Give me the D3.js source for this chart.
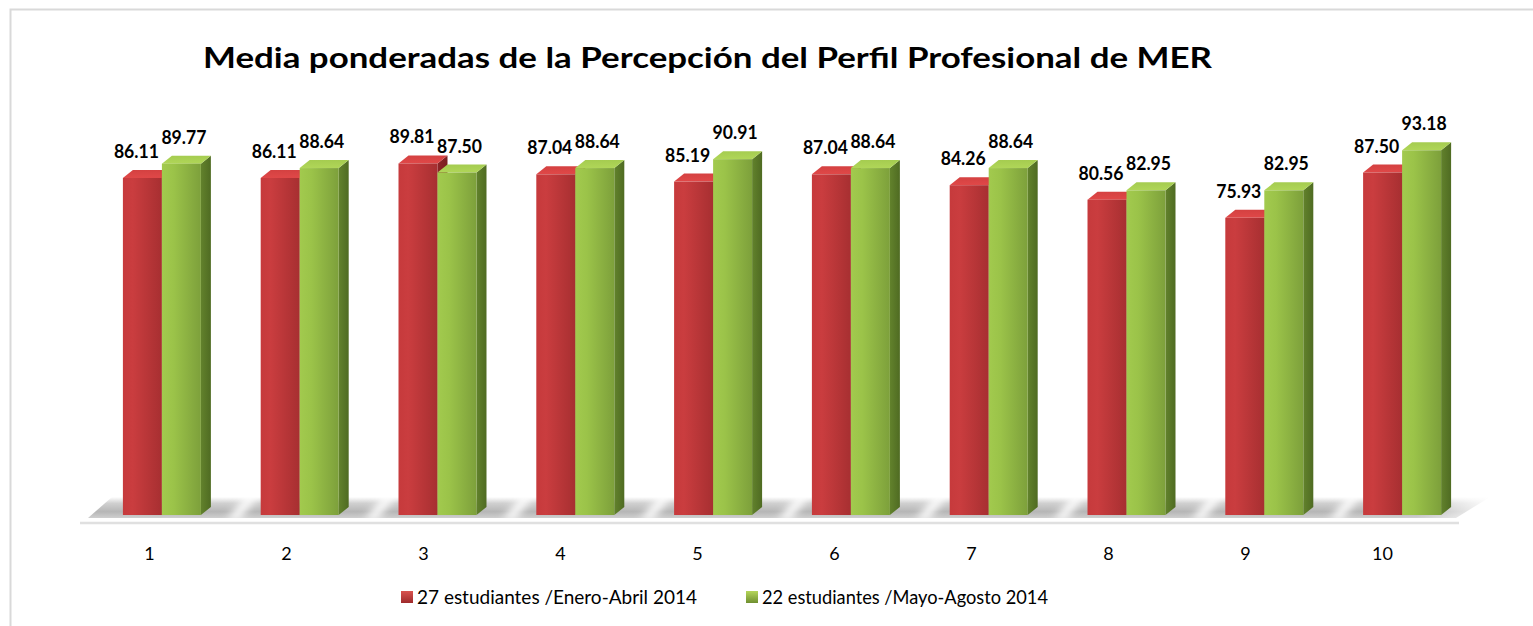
<!DOCTYPE html>
<html>
<head>
<meta charset="utf-8">
<script src="https://cdn.jsdelivr.net/npm/d3@7"></script>
<style>
  html, body { margin: 0; padding: 0; background: #ffffff; }
  svg { display: block; }
</style>
</head>
<body>
<svg id="chart" width="1533" height="626"></svg>
<script>
// Chart data
const chartTitle = "Media ponderadas de la Percepción del Perfil Profesional de MER";
const categories = ["1", "2", "3", "4", "5", "6", "7", "8", "9", "10"];
const seriesKeys = ["enero", "mayo"];
const seriesNames = ["27 estudiantes /Enero-Abril 2014", "22 estudiantes /Mayo-Agosto 2014"];
const eneroAbril = [86.11, 86.11, 89.81, 87.04, 85.19, 87.04, 84.26, 80.56, 75.93, 87.50];
const mayoAgosto = [89.77, 88.64, 87.50, 88.64, 90.91, 88.64, 88.64, 82.95, 82.95, 93.18];

const rows = categories.map((c, i) => ({ cat: c, enero: eneroAbril[i], mayo: mayoAgosto[i] }));

const FONT = "Lato, 'Open Sans', sans-serif";
const svg = d3.select("#chart");
const defs = svg.append("defs");

// Outer frame (top and left edges visible)
svg.append("path")
  .attr("d", "M10.5,626 L10.5,9.5 L1533,9.5")
  .attr("fill", "none").attr("stroke", "#d9d9d9").attr("stroke-width", 2);

// Scales: category labels sit on a slightly narrower run than the bar fronts (3D perspective)
const xLabel = d3.scaleBand().domain(categories).range([81, 1451]).paddingInner(0.434).paddingOuter(0.217);
const xBar = d3.scaleBand().domain(categories).range([93, 1471]).paddingInner(0.434).paddingOuter(0.217);
const xSub = d3.scaleBand().domain(seriesKeys).range([0, xBar.bandwidth()]);
const y = d3.scaleLinear().domain([0, 100]).range([515, 123.6]);
const y0 = y(0);
const depthX = 10, depthY = 8;

// Gradients
function linGrad(id, x1, y1, x2, y2, stops) {
  const g = defs.append("linearGradient").attr("id", id)
    .attr("x1", x1).attr("y1", y1).attr("x2", x2).attr("y2", y2);
  stops.forEach(s => g.append("stop").attr("offset", s[0]).attr("stop-color", s[1]).attr("stop-opacity", s[2] == null ? 1 : s[2]));
}
linGrad("redFront", 0, 0, 1, 0, [[0, "#c63a3c"], [0.25, "#ca3d3f"], [1, "#a72f31"]]);
linGrad("redTop", 0, 1, 0, 0, [[0, "#e04848"], [1, "#d44141"]]);
linGrad("redSide", 0, 0, 1, 0, [[0, "#8e2527"], [1, "#7a1f21"]]);
linGrad("greenFront", 0, 0, 1, 0, [[0, "#a2ca4e"], [0.3, "#9bc349"], [1, "#7da03b"]]);
linGrad("greenTop", 0, 1, 0, 0, [[0, "#b0d658"], [1, "#a5cc50"]]);
linGrad("greenSide", 0, 0, 1, 0, [[0, "#62822c"], [1, "#4f6b22"]]);
linGrad("floorGrad", 0, 0, 0, 1, [[0, "#ffffff"], [0.3, "#d0d0d0"], [0.7, "#b6b6b6"], [1, "#cfcfcf"]]);
linGrad("floorEnd", 0, 0, 1, 0, [[0, "#ffffff", 0], [1, "#ffffff", 1]]);

const blur = defs.append("filter").attr("id", "soft").attr("x", "-50%").attr("y", "-50%").attr("width", "200%").attr("height", "200%");
blur.append("feGaussianBlur").attr("stdDeviation", 4);

// Floor
const floorTop = y0 - 18, floorBot = y0 + 3;
const fl = xLabel.range()[0] + 7, fr = xBar.range()[1] - 15;
svg.append("path")
  .attr("d", `M${fl},${floorBot} L${fl + 24},${floorTop} L${fr + 34},${floorTop} L${fr},${floorBot} Z`)
  .attr("fill", "url(#floorGrad)");

// Light streaks between the bar groups
const floorG = svg.append("g").attr("filter", "url(#soft)");
categories.slice(1).forEach(c => {
  const gx = xBar(c) - 28;
  floorG.append("path")
    .attr("d", `M${gx - 6},${floorBot + 2} L${gx + 14},${floorTop - 2} L${gx + 26},${floorTop - 2} L${gx + 6},${floorBot + 2} Z`)
    .attr("fill", "#ffffff");
});
// fade at far right end
svg.append("rect").attr("x", fr - 40).attr("y", floorTop - 1).attr("width", 80).attr("height", floorBot - floorTop + 2)
  .attr("fill", "url(#floorEnd)");

// Front edge line of the floor
svg.append("line")
  .attr("x1", xLabel.range()[0] - 1).attr("x2", xBar.range()[1] - 12)
  .attr("y1", y0 + 8).attr("y2", y0 + 8)
  .attr("stroke", "#e0e0e0").attr("stroke-width", 2.5);

// 3D bars
const colors = {
  enero: { front: "url(#redFront)", top: "url(#redTop)", side: "url(#redSide)" },
  mayo: { front: "url(#greenFront)", top: "url(#greenTop)", side: "url(#greenSide)" }
};

const groups = svg.append("g").selectAll("g.grp").data(rows).join("g").attr("class", "grp");

seriesKeys.forEach(key => {
  groups.each(function(d) {
    const g = d3.select(this);
    const x = xBar(d.cat) + xSub(key);
    const w = xSub.bandwidth();
    const yt = y(d[key]);
    const c = colors[key];
    g.append("path")
      .attr("d", `M${x + w},${yt} L${x + w + depthX},${yt - depthY} L${x + w + depthX},${y0 - depthY} L${x + w},${y0} Z`)
      .attr("fill", c.side);
    g.append("path")
      .attr("d", `M${x},${yt} L${x + depthX},${yt - depthY} L${x + w + depthX},${yt - depthY} L${x + w},${yt} Z`)
      .attr("fill", c.top);
    g.append("rect")
      .attr("x", x).attr("y", yt).attr("width", w).attr("height", y0 - yt)
      .attr("fill", c.front);
  });
});

// Value labels
const labelOffset = { enero: -6, mayo: 2.5 };
seriesKeys.forEach(key => {
  svg.append("g").selectAll("text").data(rows).join("text")
    .attr("x", d => xBar(d.cat) + xSub(key) + xSub.bandwidth() / 2 + labelOffset[key])
    .attr("y", d => y(d[key]) - 20)
    .attr("text-anchor", "middle")
    .attr("font-family", FONT)
    .attr("font-weight", 700)
    .attr("font-size", 18.5)
    .attr("textLength", 45)
    .attr("lengthAdjust", "spacingAndGlyphs")
    .attr("fill", "#000")
    .text(d => d[key].toFixed(2));
});

// Category axis
const axis = svg.append("g")
  .attr("transform", `translate(0,${y0 + 8})`)
  .call(d3.axisBottom(xLabel).tickSize(0).tickPadding(24));
axis.select(".domain").remove();
axis.selectAll("text")
  .attr("font-family", FONT)
  .attr("font-size", 18)
  .attr("fill", "#000");

// Title
svg.append("text")
  .attr("x", 707.5).attr("y", 68)
  .attr("text-anchor", "middle")
  .attr("font-family", FONT)
  .attr("font-weight", 700)
  .attr("font-size", 29)
  .attr("textLength", 1009)
  .attr("lengthAdjust", "spacingAndGlyphs")
  .attr("fill", "#000")
  .text(chartTitle);

// Legend
const legendX = [401, 746];
const legendTextWidth = [280, 286];
linGrad("legRed", 0, 0, 0, 1, [[0, "#d9534f"], [1, "#9e2a2b"]]);
linGrad("legGreen", 0, 0, 0, 1, [[0, "#b5d65a"], [1, "#6f8f30"]]);
const legendFill = ["url(#legRed)", "url(#legGreen)"];
const legend = svg.append("g").selectAll("g").data(seriesNames).join("g")
  .attr("transform", (d, i) => `translate(${legendX[i]},591)`);
legend.append("rect").attr("width", 12).attr("height", 12)
  .attr("fill", (d, i) => legendFill[i]);
legend.append("text")
  .attr("x", 16).attr("y", 12.5)
  .attr("font-family", FONT)
  .attr("font-size", 18.5)
  .attr("textLength", (d, i) => legendTextWidth[i])
  .attr("lengthAdjust", "spacingAndGlyphs")
  .attr("fill", "#000")
  .text(d => d);
</script>
</body>
</html>
